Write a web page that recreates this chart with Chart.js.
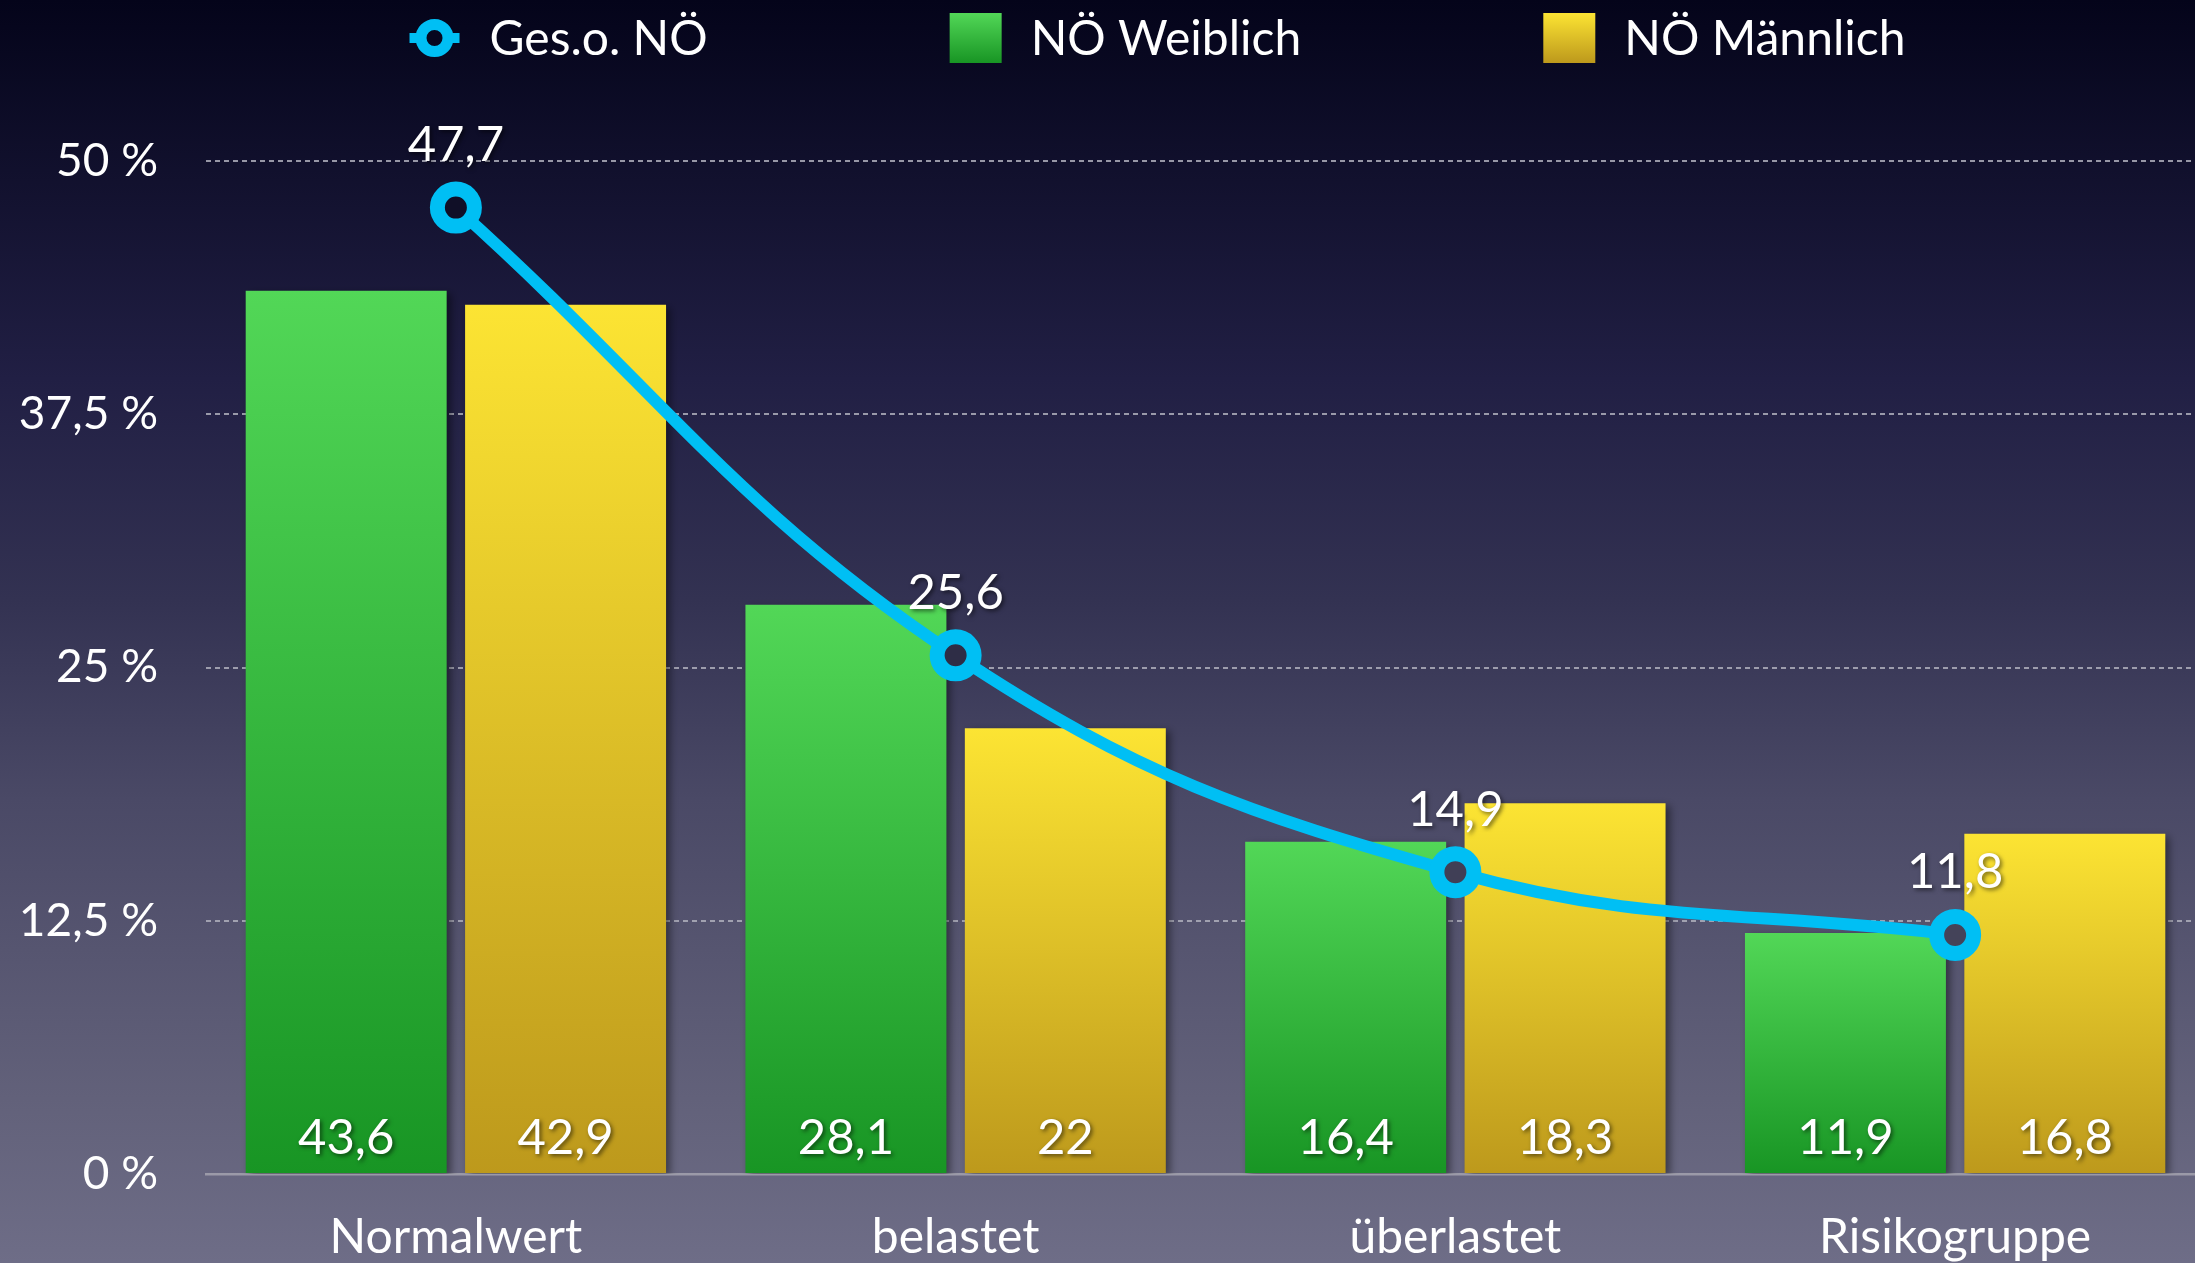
<!DOCTYPE html>
<html><head><meta charset="utf-8">
<script src="https://cdn.jsdelivr.net/npm/chart.js@4.4.1/dist/chart.umd.min.js"></script>
<style>
html,body{margin:0;padding:0;width:2195px;height:1263px;overflow:hidden;background:#04041a;}
#wrap{position:relative;width:2195px;height:1263px;overflow:hidden;}
canvas{display:block;}
</style></head><body><div id="wrap"><canvas id="c" width="2205" height="1263" style="width:2205px;height:1263px"></canvas></div>
<script>
// ---- data ----
const categories = ['Normalwert', 'belastet', 'überlastet', 'Risikogruppe'];
const seriesNames = ['Ges.o. NÖ', 'NÖ Weiblich', 'NÖ Männlich'];
const totalValues = [47.7, 25.6, 14.9, 11.8];
const femaleValues = [43.6, 28.1, 16.4, 11.9];
const maleValues = [42.9, 22, 18.3, 16.8];
const yTickValues = [0, 12.5, 25, 37.5, 50];

// ---- style ----
const FONT = 'Lato, "Open Sans", sans-serif';
const CYAN = '#00bff4';
const GREEN_TOP = '#52d757', GREEN_BOT = '#189524';
const YELLOW_TOP = '#fce433', YELLOW_BOT = '#bd991c';
const bgStops = [[0,[4,4,26]],[0.3,[33,31,68]],[0.475,[51,50,82]],[0.633,[74,73,102]],[0.87,[98,97,122]],[1,[110,109,135]]];

function bgAt(t){
  t = Math.max(0, Math.min(1, t));
  for (let i = 1; i < bgStops.length; i++){
    if (t <= bgStops[i][0]){
      const a = bgStops[i-1], b = bgStops[i];
      const f = (t - a[0]) / (b[0] - a[0]);
      return a[1].map((v,k)=>Math.round(v + (b[1][k]-v)*f));
    }
  }
  return bgStops[bgStops.length-1][1];
}
const fmt = v => String(v).replace('.', ',');

function barGradient(top, bot){
  return (c) => {
    const chart = c.chart;
    if (!chart.chartArea || c.type !== 'data') return top;
    const y = chart.scales.y;
    const y0 = y.getPixelForValue(c.raw), y1 = y.getPixelForValue(0);
    const g = chart.ctx.createLinearGradient(0, y0, 0, y1);
    g.addColorStop(0, top); g.addColorStop(1, bot);
    return g;
  };
}

const background = {
  id: 'background',
  beforeDraw(chart){
    const {ctx, width, height} = chart;
    const g = ctx.createLinearGradient(0, 0, 0, height);
    bgStops.forEach(s => g.addColorStop(s[0], 'rgb(' + s[1].join(',') + ')'));
    ctx.save(); ctx.fillStyle = g; ctx.fillRect(0, 0, width, height); ctx.restore();
  }
};

const barShadow = {
  id: 'barShadow',
  beforeDatasetDraw(chart, args){
    if (args.meta.type === 'bar'){
      const c = chart.ctx; c.save();
      c.shadowColor = 'rgba(0,0,0,0.45)'; c.shadowBlur = 8; c.shadowOffsetX = 4; c.shadowOffsetY = 3;
    }
  },
  afterDatasetDraw(chart, args){
    if (args.meta.type === 'bar') chart.ctx.restore();
  }
};

const valueLabels = {
  id: 'valueLabels',
  afterDatasetsDraw(chart){
    const ctx = chart.ctx;
    const fs = 49;
    ctx.save();
    ctx.font = fs + 'px ' + FONT;
    ctx.fillStyle = '#ffffff';
    ctx.textAlign = 'center';
    ctx.textBaseline = 'alphabetic';
    ctx.shadowColor = 'rgba(0,0,0,0.55)'; ctx.shadowBlur = 4; ctx.shadowOffsetX = 2; ctx.shadowOffsetY = 2;
    const order = [1, 2, 0];
    order.forEach(i => {
      const ds = chart.data.datasets[i];
      const meta = chart.getDatasetMeta(i);
      meta.data.forEach((el, j) => {
        const txt = fmt(ds.data[j]);
        if (meta.type === 'line') ctx.fillText(txt, el.x, el.y - 64 + 0.358*fs);
        else ctx.fillText(txt, el.x, el.base - 37 + 0.358*fs);
      });
    });
    ctx.restore();
  }
};

const customLegend = {
  id: 'customLegend',
  afterDraw(chart){
    const ctx = chart.ctx;
    const fs = 48, cy = 38, iconW = 52, gapText = 29, gapItem = 242, centerX = 1157;
    ctx.save();
    ctx.font = fs + 'px ' + FONT;
    const widths = chart.data.datasets.map(d => ctx.measureText(d.label).width);
    const total = widths.reduce((a,b)=>a+b,0) + 3*(iconW + gapText) + 2*gapItem;
    let x = centerX - total/2;
    chart.data.datasets.forEach((d, i) => {
      const ix = x + iconW/2;
      if (d.type === 'line'){
        ctx.strokeStyle = CYAN; ctx.lineWidth = 10;
        ctx.beginPath(); ctx.moveTo(ix - 25, cy); ctx.lineTo(ix + 25, cy); ctx.stroke();
        const c = bgAt(cy / chart.height);
        ctx.fillStyle = 'rgb(' + c.join(',') + ')';
        ctx.lineWidth = 11;
        ctx.beginPath(); ctx.arc(ix, cy, 13.5, 0, Math.PI*2); ctx.fill(); ctx.stroke();
      } else {
        const top = i === 1 ? GREEN_TOP : YELLOW_TOP, bot = i === 1 ? GREEN_BOT : YELLOW_BOT;
        const g = ctx.createLinearGradient(0, 13, 0, 63);
        g.addColorStop(0, top); g.addColorStop(1, bot);
        ctx.fillStyle = g;
        ctx.fillRect(x, 13, 52, 50);
      }
      ctx.fillStyle = '#ffffff';
      ctx.textAlign = 'left'; ctx.textBaseline = 'alphabetic';
      ctx.fillText(d.label, x + iconW + gapText, cy + 0.358*fs);
      x += iconW + gapText + widths[i] + gapItem;
    });
    ctx.restore();
  }
};

const chart = new Chart(document.getElementById('c'), {
  type: 'bar',
  data: {
    labels: categories,
    datasets: [
      {
        type: 'line', label: seriesNames[0], data: totalValues,
        borderColor: CYAN, borderWidth: 12, tension: 0.4,
        pointRadius: 18.5, pointHoverRadius: 18.5, pointBorderWidth: 15, pointHoverBorderWidth: 15,
        pointBorderColor: CYAN,
        pointBackgroundColor: (c) => {
          if (!c.chart.chartArea || c.type !== 'data') return '#222';
          const py = c.chart.scales.y.getPixelForValue(c.raw);
          const col = bgAt(py / c.chart.height).map(v => Math.round(v*0.8));
          return 'rgb(' + col.join(',') + ')';
        },
        fill: false, clip: false, order: 0
      },
      {
        label: seriesNames[1], data: femaleValues,
        backgroundColor: barGradient(GREEN_TOP, GREEN_BOT),
        borderWidth: 0, categoryPercentage: 0.878, barPercentage: 0.916, order: 1
      },
      {
        label: seriesNames[2], data: maleValues,
        backgroundColor: barGradient(YELLOW_TOP, YELLOW_BOT),
        borderWidth: 0, categoryPercentage: 0.878, barPercentage: 0.916, order: 2
      }
    ]
  },
  options: {
    responsive: false,
    animation: false,
    devicePixelRatio: 1,
    layout: { autoPadding: false, padding: { top: 161, left: 0, right: 0, bottom: 0 } },
    plugins: {
      legend: { display: false },
      tooltip: { enabled: false }
    },
    scales: {
      x: {
        grid: { display: false, drawTicks: false },
        border: { display: true, color: '#9b9aa8', width: 2.5 },
        ticks: { color: '#ffffff', font: { family: FONT, size: 48 }, padding: 35 },
        afterFit: (s) => { s.height = 89; s.paddingLeft = 0; s.paddingRight = 0; }
      },
      y: {
        min: 0, max: 50,
        afterBuildTicks: (s) => { s.ticks = yTickValues.map(v => ({ value: v })); },
        grid: { color: 'rgba(175,175,188,0.85)', lineWidth: 2, drawTicks: false },
        border: { display: false, dash: [5, 4] },
        ticks: {
          color: '#ffffff', font: { family: FONT, size: 46 }, padding: 48,
          callback: (v) => fmt(v) + ' %'
        },
        afterFit: (s) => { s.width = 206; s.paddingTop = 0; s.paddingBottom = 0; }
      }
    }
  },
  plugins: [background, barShadow, valueLabels, customLegend]
});
</script></body></html>
